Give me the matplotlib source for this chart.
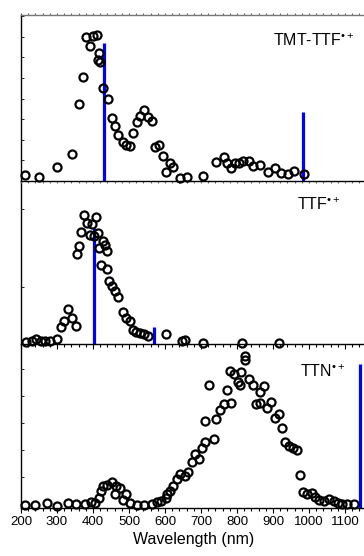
import matplotlib
matplotlib.use("Agg")
import matplotlib.pyplot as plt
from matplotlib.ticker import MultipleLocator
import numpy as np

plt.rcParams['font.family'] = ['Liberation Sans', 'DejaVu Sans']
plt.rcParams['mathtext.fontset'] = 'custom'
plt.rcParams['mathtext.rm'] = 'Liberation Sans'
plt.rcParams['mathtext.it'] = 'Liberation Sans'

# TMT-TTF radical cation (absorbance, arbitrary units)
tmt_wl = [211, 250, 301, 341, 360, 371, 381, 392, 401, 412, 417, 413, 419, 429, 443,
          454, 461, 470, 482, 492, 503, 512, 521, 531, 542, 552, 563, 572, 584, 594,
          614, 623, 602, 642, 661, 705, 743, 763, 772, 784, 795, 806, 816, 832, 844,
          865, 886, 905, 923, 942, 957, 985]
tmt_abs = [6, 4, 14, 27, 77, 104, 144, 135, 145, 146, 128, 121, 119, 93, 82,
           63, 55, 46, 39, 36, 35, 48, 59, 65, 71, 64, 60, 34, 36, 25,
           18, 14, 9, 3, 4, 5, 19, 24, 18, 13, 18, 18, 20, 20, 15,
           16, 9, 13, 8, 7, 10, 7]
tmt_calc_wl = [430, 982]
tmt_calc_f = [138, 69]

# TTF radical cation
ttf_wl = [214, 230, 242, 255, 267, 281, 301, 310, 319, 331, 341, 352, 356, 362, 368,
          376, 384, 392, 398, 407, 404, 415, 417, 429, 433, 438, 421, 440, 444, 452,
          461, 470, 482, 492, 503, 510, 519, 531, 542, 554, 602, 646, 655, 705, 814, 916]
ttf_abs = [2, 3, 5, 3, 2.7, 2.7, 5, 17, 23, 35, 26, 18, 90, 98, 112,
           129, 121, 109, 120, 127, 108, 111, 96, 103, 99, 93, 79, 75, 63, 58,
           53, 47, 32, 26, 23, 14, 12, 11, 10, 8, 10, 2.7, 4, 1.3, 0.7, 0.7]
ttf_calc_wl = [404, 569]
ttf_calc_f = [116, 17]

# TTN radical cation
ttn_wl = [211, 239, 271, 301, 331, 353, 378, 394, 406, 417, 422, 429, 440, 452, 461,
          464, 475, 484, 492, 503, 521, 542, 563, 577, 589, 602, 605, 614, 623, 632,
          642, 655, 664, 675, 684, 694, 703, 712, 735, 712, 723, 743, 754, 763, 784,
          772, 781, 793, 803, 812, 809, 821, 823, 834, 844, 853, 863, 874, 865, 883,
          895, 905, 916, 925, 934, 944, 955, 967, 974, 983, 994, 1008, 1017, 1027, 1041,
          1055, 1069, 1081, 1092, 1106, 1124]
ttn_abs = [3, 3.3, 4.7, 2.3, 5, 4, 4, 5.7, 5, 9.7, 17, 22, 23, 26, 14,
           22, 20, 8, 14, 5, 3.3, 3.3, 4, 5.7, 7.3, 10, 14, 17, 22, 29,
           34, 32, 36, 46, 54, 49, 60, 66, 69, 87, 123, 89, 98, 104, 105,
           118, 137, 134, 126, 136, 123, 152, 148, 129, 123, 104, 116, 122, 105, 100,
           106, 90, 94, 80, 66, 62, 60, 58, 33, 16, 14, 15, 11, 8, 7,
           9, 7, 5, 4, 4, 4]
ttn_calc_wl = [1141]
ttn_calc_f = [144]

panels = [
    (tmt_wl, tmt_abs, tmt_calc_wl, tmt_calc_f, 'TMT-TTF', 166, 0.966, 0.813, np.arange(0, 166, 20.6)),
    (ttf_wl, ttf_abs, ttf_calc_wl, ttf_calc_f, 'TTF', 163, 0.923, 0.822, [57, 135]),
    (ttn_wl, ttn_abs, ttn_calc_wl, ttn_calc_f, 'TTN', 164, 0.9375, 0.80, [31, 58, 85, 112, 139]),
]

fig = plt.figure(figsize=(3.64, 5.56), dpi=100)
H = 556.0
tops = [15, 181, 344]
bottoms = [181, 344, 508]
left = 21 / 364
width = (1160 - 200) * 0.36 / 364

for i, (wl, ab, cwl, cf, name, ymax, tx, ty, yt) in enumerate(panels):
    ax = fig.add_axes([left, (H - bottoms[i]) / H, width, (bottoms[i] - tops[i]) / H],
                      facecolor='none', zorder=10 - i)
    ax.vlines(cwl, 0, cf, color='#0000ff', lw=2.3, zorder=2)
    ax.plot(wl, ab, 'o', mfc='none', mec='black', ms=5.8, mew=1.6, zorder=3, clip_on=False)
    ax.set_xlim(200, 1160)
    ax.set_ylim(0, ymax)
    ax.xaxis.set_major_locator(MultipleLocator(100))
    ax.xaxis.set_minor_locator(MultipleLocator(20))
    ax.tick_params(axis='x', which='major', direction='out', length=3.5, width=0.8,
                   labelsize=9.5, pad=2)
    ax.tick_params(axis='x', which='minor', direction='out', length=2, width=0.8)
    ax.set_yticks(yt)
    ax.tick_params(axis='y', which='both', direction='in', length=2, width=0.6,
                   labelleft=False)
    if i == 0:
        ax.tick_params(axis='x', which='both', top=True, length=1.5, color='#666666')
        ax.spines['top'].set_color('#777777')
    else:
        ax.spines['top'].set_visible(False)
    if i < 2:
        ax.tick_params(axis='x', labelbottom=False)
    else:
        ax.set_xlabel('Wavelength (nm)', fontsize=11.5, labelpad=3)
    ax.text(tx, ty, name + '$^{•+}$', transform=ax.transAxes,
            ha='right', va='baseline', fontsize=11.5)
    for s in ax.spines.values():
        s.set_linewidth(1.0)

fig.savefig('out.png', dpi=100)
